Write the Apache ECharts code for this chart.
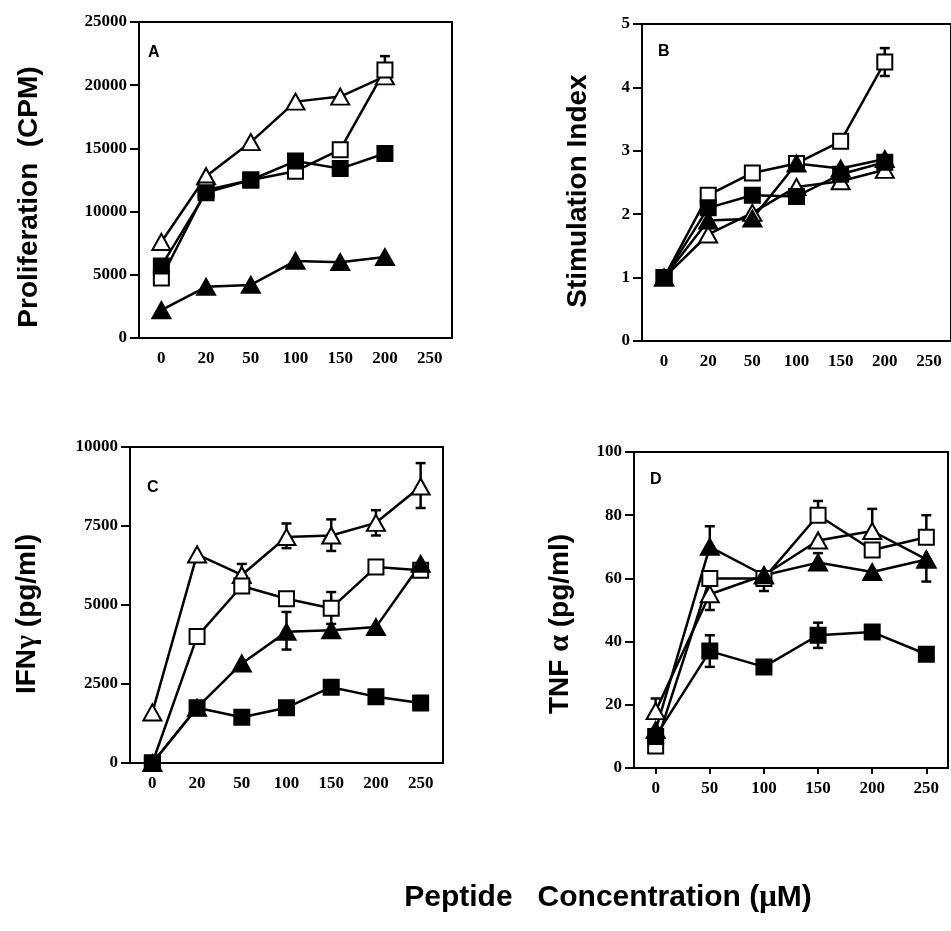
<!DOCTYPE html>
<html>
<head>
<meta charset="utf-8">
<style>
  html, body { margin: 0; padding: 0; background: #fff; }
  #chart { width: 951px; height: 931px; }
</style>
<script src="https://cdn.jsdelivr.net/npm/echarts@6/dist/echarts.min.js"></script>
</head>
<body>
<div id="chart"></div>
<script>
// x categories (equally spaced concentrations)
const catsAB = ['0', '20', '50', '100', '150', '200', '250']
const catsC = ['0', '20', '50', '100', '150', '200', '250']
const xD = [0, 50, 100, 150, 200, 250]

// Panel A: proliferation (CPM)
const aOpenTri = [7600, 12800, 15500, 18700, 19100, 20700]
const aOpenSq = [4750, 11700, 12500, 13200, 14900, 21200]
const aFilledSq = [5700, 11500, 12500, 14000, 13400, 14600]
const aFilledTri = [2200, 4050, 4200, 6100, 6000, 6400]
const aErr = [[5, 21200, 22300]]

// Panel B: stimulation index
const bOpenSq = [1, 2.3, 2.65, 2.8, 3.15, 4.4]
const bFilledSq = [1, 2.1, 2.3, 2.28, 2.63, 2.82]
const bOpenTri = [1, 1.68, 2.02, 2.43, 2.52, 2.7]
const bFilledTri = [1, 1.9, 1.93, 2.8, 2.72, 2.87]
const bErr = [[5, 4.18, 4.62]]

// Panel C: IFN-gamma (pg/ml)
const cOpenTri = [1600, 6600, 5950, 7150, 7200, 7600, 8750]
const cOpenSq = [0, 4000, 5600, 5200, 4900, 6200, 6100]
const cFilledTri = [0, 1750, 3150, 4150, 4200, 4300, 6300]
const cFilledSq = [0, 1750, 1450, 1750, 2400, 2100, 1900]
const cErr = [[2, 5950, 6300], [3, 6800, 7580], [4, 6710, 7710], [5, 7200, 8000], [6, 8070, 9490],
  [4, 4400, 5410], [3, 3590, 4780]]

// Panel D: TNF-alpha (pg/ml)
const dOpenSq = [7, 60, 60, 80, 69, 73]
const dOpenTri = [18, 55, 61, 72, 75, 66]
const dFilledTri = [12, 70, 61, 65, 62, 66]
const dFilledSq = [10, 37, 32, 42, 43, 36]
const dErr = [[0, 18, 22], [50, 50, 55], [50, 70, 76.5], [50, 32, 42], [100, 56, 60],
  [150, 80, 84.5], [150, 65, 68], [150, 38, 46], [200, 75, 82], [250, 73, 80], [250, 59, 66]]

const chart = echarts.init(document.getElementById('chart'), null, { renderer: 'canvas' })

const tickFont = { fontFamily: 'Liberation Serif', fontWeight: 'bold', fontSize: 17, color: '#000' }
const titleFont = { fontFamily: 'Liberation Sans', fontWeight: 'bold', fontSize: 28, fill: '#000' }

const grids = [
  { left: 139, top: 22, width: 313, height: 316 },
  { left: 642, top: 24, width: 312, height: 317 },
  { left: 130, top: 447, width: 313, height: 316 },
  { left: 634, top: 452, width: 314, height: 316 },
].map((g) => ({ ...g, show: true, borderColor: '#000', borderWidth: 2, backgroundColor: 'transparent' }))

function catAxis(i, cats) {
  return {
    type: 'category', gridIndex: i, data: cats, boundaryGap: true,
    axisLine: { onZero: false, lineStyle: { color: '#000', width: 2 } },
    axisTick: { alignWithLabel: true, length: 6, lineStyle: { color: '#000', width: 2 } },
    axisLabel: { ...tickFont, margin: 12 },
    splitLine: { show: false },
  }
}

function valAxis(i, max, interval) {
  return {
    type: 'value', gridIndex: i, min: 0, max, interval,
    axisLine: { show: true, onZero: false, lineStyle: { color: '#000', width: 2 } },
    axisTick: { show: true, length: 9, lineStyle: { color: '#000', width: 2 } },
    axisLabel: { ...tickFont, margin: 12, formatter: (v) => String(v) },
    splitLine: { show: false },
  }
}

const xAxes = [
  catAxis(0, catsAB),
  catAxis(1, catsAB),
  catAxis(2, catsC),
  {
    type: 'value', gridIndex: 3, min: -20, max: 270,
    axisLine: { onZero: false, lineStyle: { color: '#000', width: 2 } },
    axisTick: { length: 6, customValues: xD, lineStyle: { color: '#000', width: 2 } },
    axisLabel: { ...tickFont, margin: 12, customValues: xD, formatter: (v) => String(v) },
    splitLine: { show: false },
  },
]

const yAxes = [
  valAxis(0, 25000, 5000),
  valAxis(1, 5, 1),
  valAxis(2, 10000, 2500),
  valAxis(3, 100, 20),
]

function line(i, data, kind) {
  const filled = kind.startsWith('filled')
  const tri = kind.endsWith('Tri')
  return {
    type: 'line', xAxisIndex: i, yAxisIndex: i, data,
    symbol: tri ? 'triangle' : 'rect',
    symbolSize: tri ? [18, 16] : 15,
    showAllSymbol: true,
    lineStyle: { color: '#000', width: 2.5 },
    itemStyle: { color: filled ? '#000' : '#fff', borderColor: '#000', borderWidth: 2 },
    z: 3,
    animation: false,
  }
}

function errBars(i, data) {
  return {
    type: 'custom', xAxisIndex: i, yAxisIndex: i, data, z: 2, animation: false,
    renderItem: (params, api) => {
      const lo = api.coord([api.value(0), api.value(1)])
      const hi = api.coord([api.value(0), api.value(2)])
      const w = 5
      const st = { stroke: '#000', lineWidth: 2.5 }
      return {
        type: 'group',
        children: [
          { type: 'line', shape: { x1: lo[0], y1: lo[1], x2: hi[0], y2: hi[1] }, style: st },
          { type: 'line', shape: { x1: hi[0] - w, y1: hi[1], x2: hi[0] + w, y2: hi[1] }, style: st },
          { type: 'line', shape: { x1: lo[0] - w, y1: lo[1], x2: lo[0] + w, y2: lo[1] }, style: st },
        ],
      }
    },
  }
}

const dPairs = (vals) => vals.map((v, k) => [xD[k], v])

const series = [
  errBars(0, aErr),
  line(0, aOpenTri, 'openTri'),
  line(0, aOpenSq, 'openSq'),
  line(0, aFilledSq, 'filledSq'),
  line(0, aFilledTri, 'filledTri'),
  errBars(1, bErr),
  line(1, bOpenTri, 'openTri'),
  line(1, bOpenSq, 'openSq'),
  line(1, bFilledSq, 'filledSq'),
  line(1, bFilledTri, 'filledTri'),
  errBars(2, cErr),
  line(2, cOpenTri, 'openTri'),
  line(2, cOpenSq, 'openSq'),
  line(2, cFilledTri, 'filledTri'),
  line(2, cFilledSq, 'filledSq'),
  errBars(3, dErr),
  line(3, dPairs(dOpenTri), 'openTri'),
  line(3, dPairs(dOpenSq), 'openSq'),
  line(3, dPairs(dFilledTri), 'filledTri'),
  line(3, dPairs(dFilledSq), 'filledSq'),
]

const greek = { fontFamily: 'Liberation Serif', fontWeight: 'bold', fontSize: 30 }

function vTitle(x, y, style) {
  return {
    type: 'text', x, y, rotation: Math.PI / 2, z: 10,
    style: { ...titleFont, align: 'center', verticalAlign: 'middle', ...style },
  }
}

function letter(x, y, t) {
  return {
    type: 'text', left: x, top: y, z: 10,
    style: { text: t, fontFamily: 'Liberation Sans', fontWeight: 'bold', fontSize: 16, fill: '#000' },
  }
}

const graphic = [
  vTitle(29, 197, { text: 'Proliferation  (CPM)' }),
  vTitle(578, 191, { text: 'Stimulation Index' }),
  vTitle(27, 614, { text: 'IFN{g|γ} (pg/ml)', rich: { g: greek } }),
  vTitle(560, 624, { text: 'TNF {g|α} (pg/ml)', rich: { g: greek } }),
  {
    type: 'text', x: 608, y: 898, z: 10,
    style: { ...titleFont, fontSize: 30, align: 'center', verticalAlign: 'middle',
      text: 'Peptide   Concentration ({g|μ}M)', rich: { g: { ...greek, fontSize: 31 } } },
  },
  letter(148, 45, 'A'),
  letter(658, 44, 'B'),
  letter(147, 480, 'C'),
  letter(650, 472, 'D'),
]

chart.setOption({
  backgroundColor: '#fff',
  animation: false,
  grid: grids,
  xAxis: xAxes,
  yAxis: yAxes,
  series,
  graphic,
})
</script>
</body>
</html>
